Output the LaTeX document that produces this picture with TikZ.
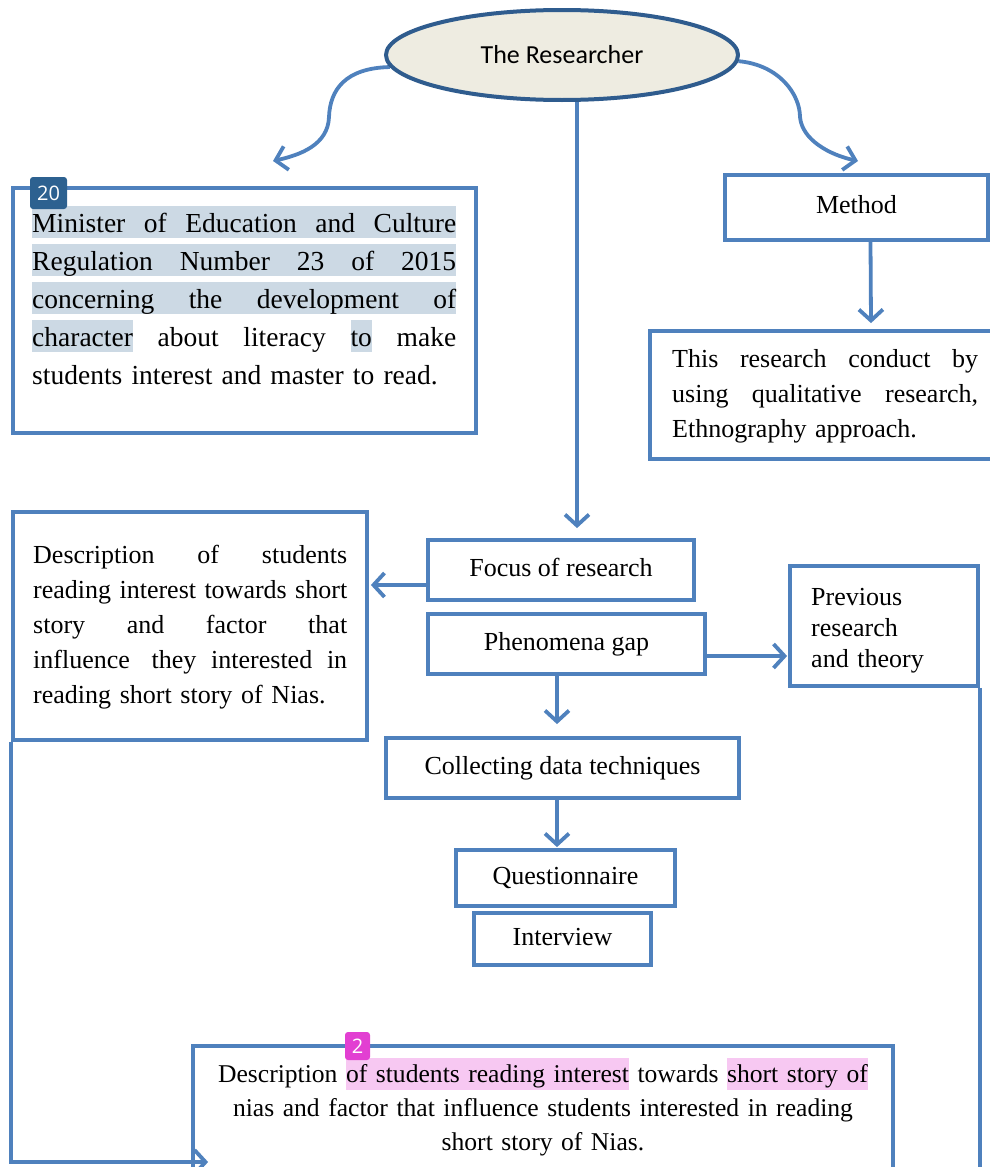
\documentclass[tikz,border=0pt]{standalone}
\usepackage{fontspec}
\setmainfont{Liberation Serif}
\newfontfamily\calibrifont{Carlito}
\newfontfamily\badgefont{Open Sans}
\usetikzlibrary{arrows.meta,calc,shapes.geometric,backgrounds}
\definecolor{lineblue}{HTML}{4F81BD}
\definecolor{ellborder}{HTML}{2F5C8E}
\definecolor{ellfill}{HTML}{EEECE1}
\definecolor{hlblue}{HTML}{CCD9E4}
\definecolor{hlpink}{HTML}{F7C8F2}
\definecolor{badgeblue}{HTML}{2D6190}
\definecolor{badgepink}{HTML}{E23FD2}
\setlength{\fboxsep}{0pt}
\newcommand\hlb[1]{\colorbox{hlblue}{\rule[-6pt]{0pt}{32pt}#1}}
\newcommand\hlp[1]{\colorbox{hlpink}{\rule[-8pt]{0pt}{32pt}#1}}
\newcommand\jl[2]{\makebox[#1][l]{#2}}
\begin{document}
\begin{tikzpicture}[x=1pt,y=-1pt,
  box/.style={draw=lineblue,line width=3.8pt,rectangle,inner sep=0pt,
    text height=18pt,text depth=6pt,font=\fontsize{26}{35}\selectfont},
  conn/.style={draw=lineblue,line width=3.8pt,-{Straight Barb[length=11pt,width=24pt]}},
  plainline/.style={draw=lineblue,line width=3.8pt},
  para/.style={inner sep=0pt,anchor=base west,align=left},
  badge/.style={rounded corners=3pt,inner sep=0pt,text=white,
    font=\badgefont\fontsize{20}{20}\selectfont}]
\useasboundingbox (0,0) rectangle (990,1167);

% main shapes
\node[ellipse,draw=ellborder,line width=4pt,fill=ellfill,inner sep=0pt,
  minimum width=352pt,minimum height=90pt,
  font=\calibrifont\fontsize{26}{30}\selectfont] (ell) at (562,55) {The Researcher};

\node[box,minimum width=463pt,minimum height=245pt] (minb) at (244.5,310.5) {};
\node[box,minimum width=263pt,minimum height=65pt] (meth) at (856.5,207.5) {Method};
\node[box,minimum width=360pt,minimum height=128pt] (resb) at (830,395) {};
\node[box,minimum width=266pt,minimum height=60pt] (focus) at (561,570) {Focus of research};
\node[box,minimum width=354pt,minimum height=228pt] (desc) at (190,626) {};
\node[box,minimum width=277pt,minimum height=60pt] (phen) at (566.5,644) {Phenomena gap};
\node[box,minimum width=188pt,minimum height=120pt] (prev) at (884,626) {};
\node[box,minimum width=353pt,minimum height=60pt] (coll) at (562.5,768) {Collecting data techniques};
\node[box,minimum width=219pt,minimum height=56pt] (quest) at (565.5,878) {Questionnaire};
\node[box,minimum width=177pt,minimum height=52pt] (interv) at (562.5,939) {Interview};
\node[box,minimum width=700pt,minimum height=154pt] (bot) at (543,1123) {};

% texts
\node[para,text width=426pt,font=\fontsize{27.5}{38}\selectfont] (mintxt) at (32,232)
 {\hlb{\jl{424pt}{Minister\hfill of\hfill Education\hfill and\hfill Culture}}\\
  \hlb{\jl{424pt}{Regulation\hfill Number\hfill 23\hfill of\hfill 2015}}\\
  \hlb{\jl{424pt}{concerning\hfill the\hfill development\hfill of}}\\
  \jl{424pt}{\hlb{character}\hfill about\hfill literacy\hfill \hlb{to}\hfill make}\\
  students interest and master to read.};

\node[para,text width=312pt,font=\fontsize{26}{35}\selectfont] (restxt) at (672,367)
 {\jl{306pt}{This\hfill research\hfill conduct\hfill by}\\
  \jl{306pt}{using\hfill qualitative\hfill research,}\\
  Ethnography approach.};

\node[para,text width=318pt,font=\fontsize{26}{35}\selectfont] (desctxt) at (33,563)
 {\jl{314pt}{Description\hfill of\hfill students}\\
  \jl{314pt}{reading\hfill interest\hfill towards\hfill short}\\
  \jl{314pt}{story\hfill and\hfill factor\hfill that}\\
  \jl{314pt}{influence\hspace{7pt}\hfill they\hfill interested\hfill in}\\
  reading short story of Nias.};

\node[para,text width=165pt,font=\fontsize{26}{31}\selectfont] (prevtxt) at (811,605)
 {Previous\\research\\and theory};

\node[inner sep=0pt,anchor=base,text width=690pt,align=center,
  font=\fontsize{25.6}{34}\selectfont] (bottxt) at (543,1082)
 {Description \hlp{of students reading interest} towards \hlp{short story of}\\
  nias and factor that influence students interested in reading\\
  short story of Nias.};

% free ends
\coordinate (lt) at (273,161);
\coordinate (rt) at (858,161);
\coordinate (tgt) at ($(bot.west)+(17,39)$);
\coordinate (rend) at ($(prev.south east)+(0,520)$);

% connectors
\begin{scope}[on background layer]
\draw[conn] (ell.184) .. controls (345,68) and (330,90) .. (329,117)
  .. controls (328,145) and (300,155) .. (lt);
\draw[conn] (ell.-2) .. controls (780,65) and (800,95) .. (800,117)
  .. controls (802,140) and (830,155) .. (rt);
\draw[conn] ($(ell.south)+(15,0)$) -- ($(focus.north)+(16,-10)$);
\end{scope}
\draw[conn] ($(meth.south)+(14,0)$) -- ($(resb.north)+(41,-6)$);
\draw[conn] ($(focus.west)+(0,15)$) -- ($(desc.east)+(2,-41)$);
\draw[conn] ($(phen.east)+(0,12)$) -- ($(prev.west)+(-1,30)$);
\draw[conn] ($(phen.south)+(-9.5,0)$) -- ($(coll.north)+(-5.5,-12)$);
\draw[conn] ($(coll.south)+(-5.5,0)$) -- ($(quest.north)+(-8.5,-1)$);
\draw[conn] (desc.south west) |- (tgt);
\draw[plainline] (prev.south east) -- (rend);

% badges
\node[badge,fill=badgeblue,minimum width=37pt,minimum height=32pt] (b20) at (48.5,193) {20};
\node[badge,fill=badgepink,minimum width=25pt,minimum height=28pt] (b2) at (357.5,1046) {2};
\end{tikzpicture}
\end{document}
